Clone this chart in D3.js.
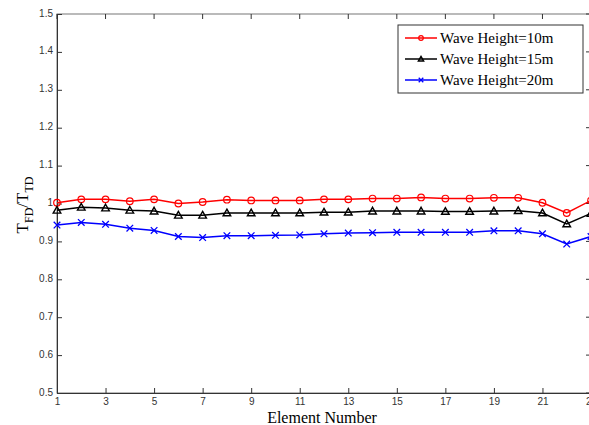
<!DOCTYPE html>
<html>
<head>
<meta charset="utf-8">
<script src="https://cdn.jsdelivr.net/npm/d3@7"></script>
<style>
  body { margin: 0; background: #fff; }
  svg { display: block; }
</style>
</head>
<body>
<div id="container"></div>
<script>
/* DATA */
const elements = d3.range(1, 24);
const wave10 = [1.002, 1.011, 1.011, 1.006, 1.011, 1.0, 1.004, 1.01, 1.008, 1.008, 1.008, 1.011,
  1.011, 1.013, 1.013, 1.016, 1.013, 1.013, 1.015, 1.015, 1.002, 0.975, 1.008];
const wave15 = [0.982, 0.99, 0.988, 0.982, 0.98, 0.969, 0.969, 0.975, 0.975, 0.975, 0.975, 0.977,
  0.977, 0.98, 0.98, 0.98, 0.979, 0.979, 0.98, 0.981, 0.975, 0.946, 0.974];
const wave20 = [0.943, 0.95, 0.945, 0.935, 0.929, 0.913, 0.91, 0.915, 0.915, 0.916, 0.917, 0.92,
  0.922, 0.923, 0.924, 0.924, 0.924, 0.924, 0.928, 0.928, 0.92, 0.893, 0.913];
const seriesNames = ["Wave Height=10m", "Wave Height=15m", "Wave Height=20m"];
const xTicks = [1, 3, 5, 7, 9, 11, 13, 15, 17, 19, 21, 23];
const yTicks = [0.5, 0.6, 0.7, 0.8, 0.9, 1, 1.1, 1.2, 1.3, 1.4, 1.5];

/* CONSTANTS */
const width = 589, height = 425;
const plotL = 57, plotR = 591, plotT = 14, plotB = 393;
const colors = ["#ff0000", "#000000", "#0000ff"];
const markers = ["circle", "triangle", "cross"];

const series = [wave10, wave15, wave20].map((vals, i) => ({
  name: seriesNames[i], color: colors[i], marker: markers[i],
  points: vals.map((v, j) => ({ x: elements[j], y: v }))
}));

/* SCALES */
const xScale = d3.scaleLinear().domain([1, 23]).range([plotL, plotR]);
const yScale = d3.scaleLinear().domain([0.5, 1.5]).range([plotB, plotT]);

const svg = d3.select("#container").append("svg")
  .attr("width", width).attr("height", height);

// box
svg.append("rect")
  .attr("x", plotL).attr("y", plotT)
  .attr("width", plotR - plotL).attr("height", plotB - plotT)
  .attr("fill", "none").attr("stroke", "#777").attr("stroke-width", 1);

// axes (ticks inside)
const xAxis = d3.axisBottom(xScale).tickValues(xTicks).tickSizeInner(-5).tickSizeOuter(0).tickPadding(5);
const yAxis = d3.axisLeft(yScale).tickValues(yTicks).tickSizeInner(-5).tickSizeOuter(0).tickPadding(4)
  .tickFormat(d => d3.format("")(+d.toFixed(1)));

const gx = svg.append("g").attr("transform", `translate(0,${plotB})`).call(xAxis);
const gy = svg.append("g").attr("transform", `translate(${plotL},0)`).call(yAxis);
[gx, gy].forEach(g => {
  g.select(".domain").attr("stroke", "#333");
  g.selectAll(".tick line").attr("stroke", "#333");
  g.selectAll("text").attr("font-family", "Liberation Sans, Arial, sans-serif")
    .attr("font-size", 10).attr("fill", "#333");
});
gy.selectAll("text").attr("dy", "0.2em");

// mirrored ticks on top / right
svg.append("g").selectAll("line").data(xTicks).join("line")
  .attr("x1", d => xScale(d)).attr("x2", d => xScale(d))
  .attr("y1", plotT).attr("y2", plotT + 5).attr("stroke", "#333");
svg.append("g").selectAll("line").data(yTicks).join("line")
  .attr("x1", plotR).attr("x2", plotR - 5)
  .attr("y1", d => yScale(d)).attr("y2", d => yScale(d)).attr("stroke", "#333");

/* LINES */
const line = d3.line().x(d => xScale(d.x)).y(d => yScale(d.y));

function drawMarker(g, type, color, x, y, s) {
  if (type === "circle") {
    g.append("circle").attr("cx", x).attr("cy", y).attr("r", s)
      .attr("fill", "none").attr("stroke", color).attr("stroke-width", 1.2);
  } else if (type === "triangle") {
    const h = s * 1.15;
    g.append("path")
      .attr("d", `M${x},${y - h}L${x + h},${y + h * 0.75}L${x - h},${y + h * 0.75}Z`)
      .attr("fill", "none").attr("stroke", color).attr("stroke-width", 1.4);
  } else {
    g.append("path")
      .attr("d", `M${x - s},${y - s}L${x + s},${y + s}M${x - s},${y + s}L${x + s},${y - s}`)
      .attr("stroke", color).attr("stroke-width", 1.3);
  }
}

series.forEach(s => {
  svg.append("path").datum(s.points)
    .attr("d", line).attr("fill", "none")
    .attr("stroke", s.color).attr("stroke-width", 1.5);
  const mg = svg.append("g");
  s.points.forEach(p => drawMarker(mg, s.marker, s.color, xScale(p.x), yScale(p.y), 3.3));
});

/* LEGEND */
const lg = svg.append("g");
lg.append("rect").attr("x", 398).attr("y", 25).attr("width", 185).attr("height", 68)
  .attr("fill", "#fff").attr("stroke", "#333").attr("stroke-width", 1);
series.forEach((s, i) => {
  const y = 38 + i * 21;
  lg.append("line").attr("x1", 405).attr("x2", 437).attr("y1", y).attr("y2", y)
    .attr("stroke", s.color).attr("stroke-width", 1.5);
  drawMarker(lg, s.marker, s.color, 421, y, 2.3);
  lg.append("text").attr("x", 440).attr("y", y + 5)
    .attr("font-family", "Liberation Serif, Times New Roman, serif")
    .attr("font-size", 15).attr("fill", "#000").text(s.name);
});

/* AXIS TITLES */
svg.append("text").attr("x", 322).attr("y", 423).attr("text-anchor", "middle")
  .attr("font-family", "Liberation Serif, Times New Roman, serif").attr("font-size", 16)
  .text("Element Number");

const yl = svg.append("text")
  .attr("transform", "translate(28,205) rotate(-90)").attr("text-anchor", "middle")
  .attr("font-family", "Liberation Serif, Times New Roman, serif").attr("font-size", 17);
yl.append("tspan").text("T");
yl.append("tspan").attr("font-size", 12).attr("dy", 5).text("FD");
yl.append("tspan").attr("dy", -5).text("/T");
yl.append("tspan").attr("font-size", 12).attr("dy", 5).text("TD");
</script>
</body>
</html>
